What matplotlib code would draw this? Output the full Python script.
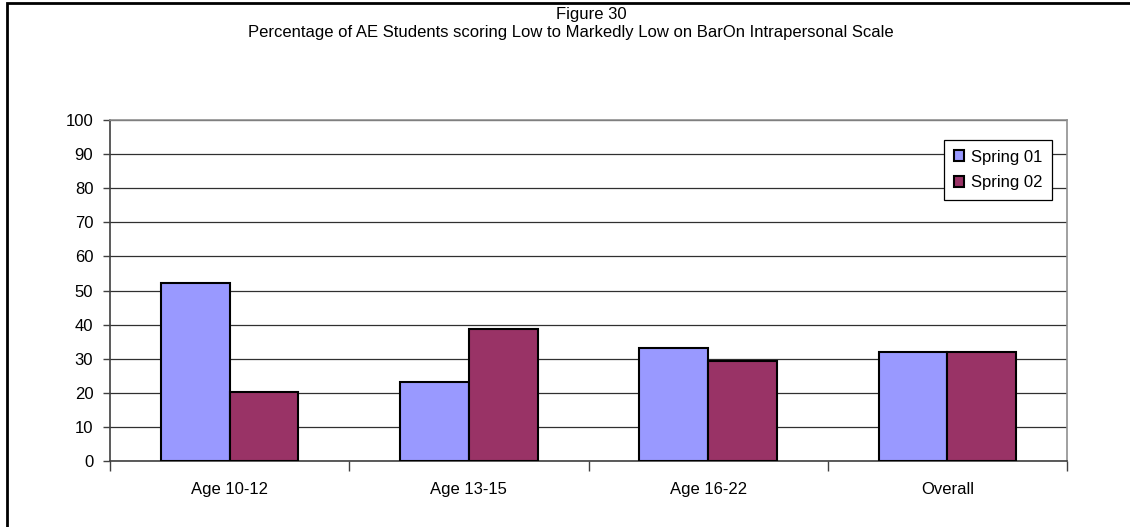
import matplotlib.pyplot as plt
import numpy as np
from matplotlib.patches import Rectangle

plt.rcParams['font.family'] = ['Liberation Sans', 'DejaVu Sans']

categories = ['Age 10-12', 'Age 13-15', 'Age 16-22', 'Overall']
spring01 = [52.1, 23.2, 33.0, 31.9]
spring02 = [20.1, 38.6, 29.4, 31.9]
yticks = [0, 10, 20, 30, 40, 50, 60, 70, 80, 90, 100]

fig = plt.figure(figsize=(11.3, 5.27), dpi=100)
ax = fig.add_axes([0.0973, 0.1252, 0.847, 0.6471])

x = np.arange(len(categories))
w = 0.288
ax.bar(x - w / 2, spring01, w, color='#9999FF', edgecolor='black', linewidth=1.5, label='Spring 01', zorder=3)
ax.bar(x + w / 2, spring02, w, color='#993366', edgecolor='black', linewidth=1.5, label='Spring 02', zorder=3)

ax.set_xlim(-0.5, len(categories) - 0.5)
ax.set_ylim(0, 100)
ax.set_yticks(yticks)
ax.set_xticks(x)
ax.set_xticklabels(categories, fontsize=12)
ax.set_xticks(np.arange(-0.5, len(categories), 1), minor=True)
ax.tick_params(axis='x', which='major', length=0, pad=15)
ax.tick_params(axis='x', which='minor', length=7, width=1, color='#404040', direction='out')
ax.tick_params(axis='y', length=5, width=1, color='#404040', labelsize=12, pad=7)

ax.yaxis.grid(True, color='#303030', linewidth=0.9, zorder=0)
ax.set_axisbelow(True)

ax.spines['left'].set_color('#404040')
ax.spines['bottom'].set_color('#404040')
ax.spines['top'].set_color('#909090')
ax.spines['right'].set_color('#909090')
for s in ax.spines.values():
    s.set_linewidth(1.2)

leg = ax.legend(loc='upper right', bbox_to_anchor=(0.984, 0.94), fontsize=12,
                fancybox=False, edgecolor='black', framealpha=1,
                handlelength=0.6, handleheight=0.6, handletextpad=0.45,
                borderpad=0.55, labelspacing=0.65, borderaxespad=0)
leg.get_frame().set_linewidth(0.9)

fig.text(0.523, 1 - 14 / 527, 'Figure 30', ha='center', va='center', fontsize=12)
fig.text(0.505, 1 - 33 / 527,
         'Percentage of AE Students scoring Low to Markedly Low on BarOn Intrapersonal Scale',
         ha='center', va='center', fontsize=12)

# outer chart frame (right and bottom edges fall outside the picture)
fig.patches.append(Rectangle((7 / 1130, -0.1), 1.2, 1.1 - 3 / 527, transform=fig.transFigure,
                             fill=False, edgecolor='black', linewidth=2))

fig.savefig('out.png', dpi=100)
